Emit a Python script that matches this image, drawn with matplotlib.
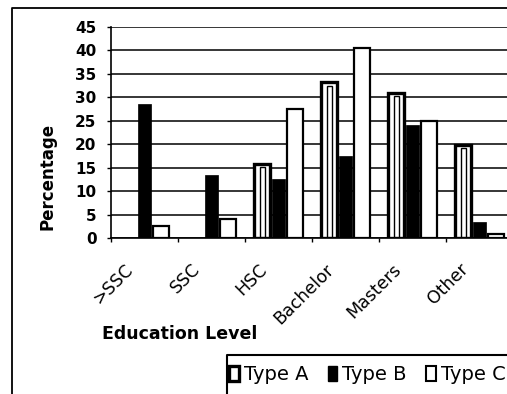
import matplotlib
matplotlib.use('Agg')
import matplotlib.pyplot as plt
import matplotlib.transforms as mtransforms
from matplotlib.patches import Patch
from matplotlib.lines import Line2D
import numpy as np

plt.rcParams['font.family'] = 'DejaVu Sans'

# Survey data: share of respondents per education level
levels = ['>SSC', 'SSC', 'HSC', 'Bachelor', 'Masters', 'Other']
type_a = [0, 0, 15.8, 33.2, 31.0, 19.8]
type_b = [28.5, 13.5, 12.5, 17.5, 24.0, 3.5]
type_c = [2.5, 4.0, 27.5, 40.5, 25.0, 0.8]
series_names = ['Type A', 'Type B', 'Type C']
y_ticks = [0, 5, 10, 15, 20, 25, 30, 35, 40, 45]

W, H = 507, 394
fig = plt.figure(figsize=(W / 100, H / 100), dpi=100)


def fx(px):
    return px / W


def fy(py):
    return 1 - py / H


# plot area in pixel terms (runs slightly past the right edge)
left, top, right, bottom = 111, 27, 513, 238
ax = fig.add_axes([fx(left), fy(bottom), (right - left) / W, (bottom - top) / H])

x = np.arange(len(levels))
bw = 0.24

# Type A: white bars with a heavy outline and an inner outline
xa = [xi - bw for xi, v in zip(x, type_a) if v > 0]
va = [v for v in type_a if v > 0]
ax.bar(xa, va, bw, facecolor='white', edgecolor='black', linewidth=2.4, zorder=3)
ax.bar(xa, [v - 1.0 for v in va], bw * 0.35, bottom=0.3, facecolor='white',
       edgecolor='black', linewidth=1.0, zorder=4)

# Type B: solid black
ax.bar(x, type_b, bw * 0.85, facecolor='black', edgecolor='black', linewidth=0.5, zorder=3)

# Type C: white with black border
ax.bar(x + bw, type_c, bw, facecolor='white', edgecolor='black', linewidth=1.6, zorder=3)

ax.set_xlim(-0.5, len(levels) - 0.5)
ax.set_ylim(0, 45)
ax.set_yticks(y_ticks)
ax.yaxis.grid(True, color='black', linewidth=1.1)
ax.set_axisbelow(True)

for s in ['top', 'right']:
    ax.spines[s].set_visible(False)
ax.spines['left'].set_linewidth(1.2)
ax.spines['bottom'].set_linewidth(1.2)

ax.tick_params(axis='y', direction='out', length=3, width=1, pad=7.5, labelsize=11)
for lbl in ax.get_yticklabels():
    lbl.set_fontweight('bold')

# category labels centred, tick marks on the boundaries
ax.set_xticks(x)
ax.set_xticks(np.arange(len(levels) + 1) - 0.5, minor=True)
ax.tick_params(axis='x', which='major', length=0, pad=16)
ax.tick_params(axis='x', which='minor', direction='out', length=3, width=1)
shift = mtransforms.ScaledTranslation(-8 / 100, 0, fig.dpi_scale_trans)
ax.set_xticklabels(levels, rotation=45, ha='right', va='top', fontsize=12.5)
for lbl in ax.get_xticklabels():
    lbl.set_transform(lbl.get_transform() + shift)

fig.text(fx(48), fy(176), 'Percentage', rotation=90, ha='center', va='center',
         fontsize=12, fontweight='bold')
fig.text(fx(102), fy(334), 'Education Level', ha='left', va='center',
         fontsize=12.5, fontweight='bold')

handles = [
    Patch(facecolor='white', edgecolor='black', linewidth=2.4),
    Patch(facecolor='black', edgecolor='black'),
    Patch(facecolor='white', edgecolor='black', linewidth=1.5),
]
fig.legend(handles, series_names, loc='upper left',
           bbox_to_anchor=(fx(229), fy(365)), ncol=3, frameon=False,
           borderaxespad=0, borderpad=0,
           handlelength=0.5, handleheight=0.8, handletextpad=0.25,
           columnspacing=1.0, fontsize=14)

# legend box edges (box runs off the bottom/right of the chart)
fig.add_artist(Line2D([fx(227), fx(227), 1.0], [0.0, fy(355), fy(355)],
                      color='black', linewidth=1.5))

# chart border: top and left edges visible
fig.add_artist(Line2D([fx(12), fx(12), 1.0], [0.0, fy(8), fy(8)],
                      color='black', linewidth=1.3))

fig.savefig('out.png', dpi=100)
